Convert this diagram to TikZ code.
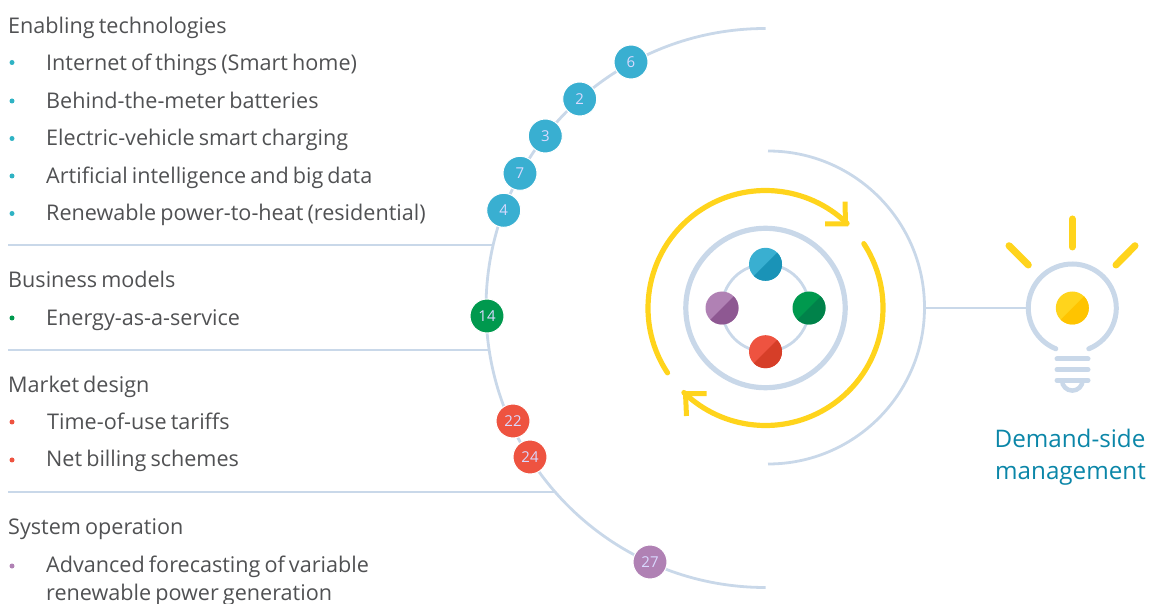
\documentclass[tikz,border=0pt]{standalone}
\usepackage{fontspec}
\setmainfont[WordSpace=0.72]{Open Sans}
\definecolor{ln}{HTML}{C9D8E9}
\definecolor{txt}{HTML}{505153}
\definecolor{blueL}{HTML}{39AFD1}
\definecolor{blueD}{HTML}{1A93B7}
\definecolor{greenL}{HTML}{00994E}
\definecolor{greenD}{HTML}{00824A}
\definecolor{redL}{HTML}{EE5340}
\definecolor{redD}{HTML}{D63E28}
\definecolor{purL}{HTML}{B081B4}
\definecolor{purD}{HTML}{8E5892}
\definecolor{yelL}{HTML}{FFD41C}
\definecolor{yelD}{HTML}{FFC400}
\definecolor{teal}{HTML}{2FB3C4}
\definecolor{dsm}{HTML}{0B86A8}
\newcommand{\tfont}{\fontsize{21.6}{24}\selectfont}
\tikzset{
  head/.style={anchor=base west,inner sep=0,text=txt,font=\tfont},
  item/.style={anchor=base west,inner sep=0,text=txt,font=\tfont},
  rulebar/.style={draw=ln,line width=2.8pt},
  thinarc/.style={draw=ln,line width=2.8pt},
  badge/.style={circle,minimum size=34pt,inner sep=0,draw=white,line width=1pt,text=white!85!blue,font=\fontsize{15}{15}\selectfont},
  disc/.style={circle,minimum size=33pt,inner sep=0},
  bul/.style={circle,minimum size=5pt,inner sep=0},
  yarc/.style={draw=yelL,line width=5.2pt,line cap=round},
  yhead/.style={draw=yelL,line width=5pt,line cap=butt,miter limit=10},
  ray/.style={draw=yelL,line width=7pt,line cap=round},
  bulbln/.style={draw=ln,line width=5pt,line cap=round}
}
\newcommand{\twotone}[5]{%
  \node[disc,fill=#3] (#1) at (#2) {};
  \fill[#4] ($(#2)+(45:16.5)$) arc[start angle=45,end angle=-135,radius=16.5] -- cycle;
}
\usetikzlibrary{calc}
\begin{document}
\begin{tikzpicture}[x=1pt,y=1pt]
\useasboundingbox (0,0) rectangle (1149,603);
\coordinate (c) at (765.5,295);
\coordinate (bc) at (1072.3,295);
% big arcs
\draw[thinarc] ($(c)+(90:279.5)$) arc[start angle=90,end angle=270,radius=279.5];
\draw[thinarc] (768,452) arc[start angle=90,end angle=-90,radius=156.5];
% rules
\coordinate (r1a) at (8,358); \coordinate (r1b) at (493,358);
\coordinate (r2a) at (8,253); \coordinate (r2b) at (489,253);
\coordinate (r3a) at (8,111); \coordinate (r3b) at (555,111);
\draw[rulebar] (r1a)--(r1b);
\draw[rulebar] (r2a)--(r2b);
\draw[rulebar] (r3a)--(r3b);
% connector to bulb
\coordinate (cl) at (924,295); \coordinate (cr) at (1028,295);
\draw[thinarc] (cl)--(cr);
% badges
\node[badge,fill=blueL] (b6) at (631,541) {6};
\node[badge,fill=blueL] (b2) at (579.7,504) {2};
\node[badge,fill=blueL] (b3) at (545.3,467) {3};
\node[badge,fill=blueL] (b7) at (520,429.7) {7};
\node[badge,fill=blueL] (b4) at (503.7,392.7) {4};
\node[badge,fill=greenL] (b14) at (487,287) {14};
\node[badge,fill=redL] (b22) at (513,182) {22};
\node[badge,fill=redL] (b24) at (530,146) {24};
\node[badge,fill=purL] (b27) at (650,41) {27};
% yellow ring
\draw[yarc] ($(c)+(213.5:117.5)$) arc[start angle=213.5,end angle=46,radius=117.5];
\draw[yarc] ($(c)+(33.2:117.5)$) arc[start angle=33.2,end angle=-134,radius=117.5];
\coordinate (h1a) at (825,379); \coordinate (h1t) at (845.5,379); \coordinate (h1b) at (845,401.3);
\draw[yhead] (h1a)--(h1t)--(h1b);
\coordinate (h2a) at (706.7,209.3); \coordinate (h2t) at (685.5,209.3); \coordinate (h2b) at (686.5,187);
\draw[yhead] (h2a)--(h2t)--(h2b);
% inner rings
\draw[draw=ln,line width=5.2pt] (c) circle[radius=79.7];
\draw[thinarc] (c) circle[radius=43.7];
\twotone{nt}{765.5,338.7}{blueL}{blueD}{}
\twotone{nr}{809,295}{greenL}{greenD}{}
\twotone{nl}{722,295}{purL}{purD}{}
\twotone{nb}{765.5,251.3}{redL}{redD}{}
% bulb
\draw[bulbln] ($(bc)+(-68:44)$) arc[start angle=-68,end angle=248,radius=44];
\twotone{bd}{1072.3,295}{yelL}{yelD}{}
\draw[ray] (1072.3,384) -- (1072.3,356);
\draw[ray] (1009,357.3) -- (1028.3,338);
\draw[ray] (1135,357.3) -- (1116,338);
\draw[bulbln] (1057,244) -- (1088,244);
\draw[bulbln] (1057,233.3) -- (1088,233.3);
\draw[bulbln] (1057,222.7) -- (1088,222.7);
\draw[draw=ln,line width=4.5pt] (1062,222.7) arc[start angle=180,end angle=360,radius=10.3];
% text
\node[head] (t1) at (8,569.3) {Enabling technologies};
\node[item] (i1) at (46,532) {Internet of things (Smart home)};
\node[item] (i2) at (46,494.3) {Behind-the-meter batteries};
\node[item] (i3) at (46,457) {Electric-vehicle smart charging};
\node[item] (i4) at (46,419.3) {Artificial intelligence and big data};
\node[item] (i5) at (46,382) {Renewable power-to-heat (residential)};
\node[head] (t2) at (8,315) {Business models};
\node[item] (i6) at (46,277) {Energy-as-a-service};
\node[head] (t3) at (8,210) {Market design};
\node[item] (i7) at (47,173) {Time-of-use tariffs};
\node[item] (i8) at (46,136) {Net billing schemes};
\node[head] (t4) at (8,69) {System operation};
\node[item] (i9) at (46,31) {Advanced forecasting of variable};
\node[item] (i10) at (46,3) {renewable power generation};
% bullets
\node[bul,fill=teal] (p1) at (12,540.5) {};
\node[bul,fill=teal] (p2) at (12,502) {};
\node[bul,fill=teal] (p3) at (12,464.5) {};
\node[bul,fill=teal] (p4) at (12,427) {};
\node[bul,fill=teal] (p5) at (12,389.5) {};
\node[bul,fill=greenL] (p6) at (12,285) {};
\node[bul,fill=redL] (p7) at (12,181) {};
\node[bul,fill=redL] (p8) at (12,143) {};
\node[bul,fill=purL] (p9) at (12,37) {};
% label
\node[anchor=base,inner sep=0,text=dsm,font=\fontsize{24.2}{26}\selectfont] (d1) at (1070,155.3) {Demand-side};
\node[anchor=base,inner sep=0,text=dsm,font=\fontsize{24.2}{26}\selectfont] (d2) at (1070.5,124) {management};
\end{tikzpicture}
\end{document}
